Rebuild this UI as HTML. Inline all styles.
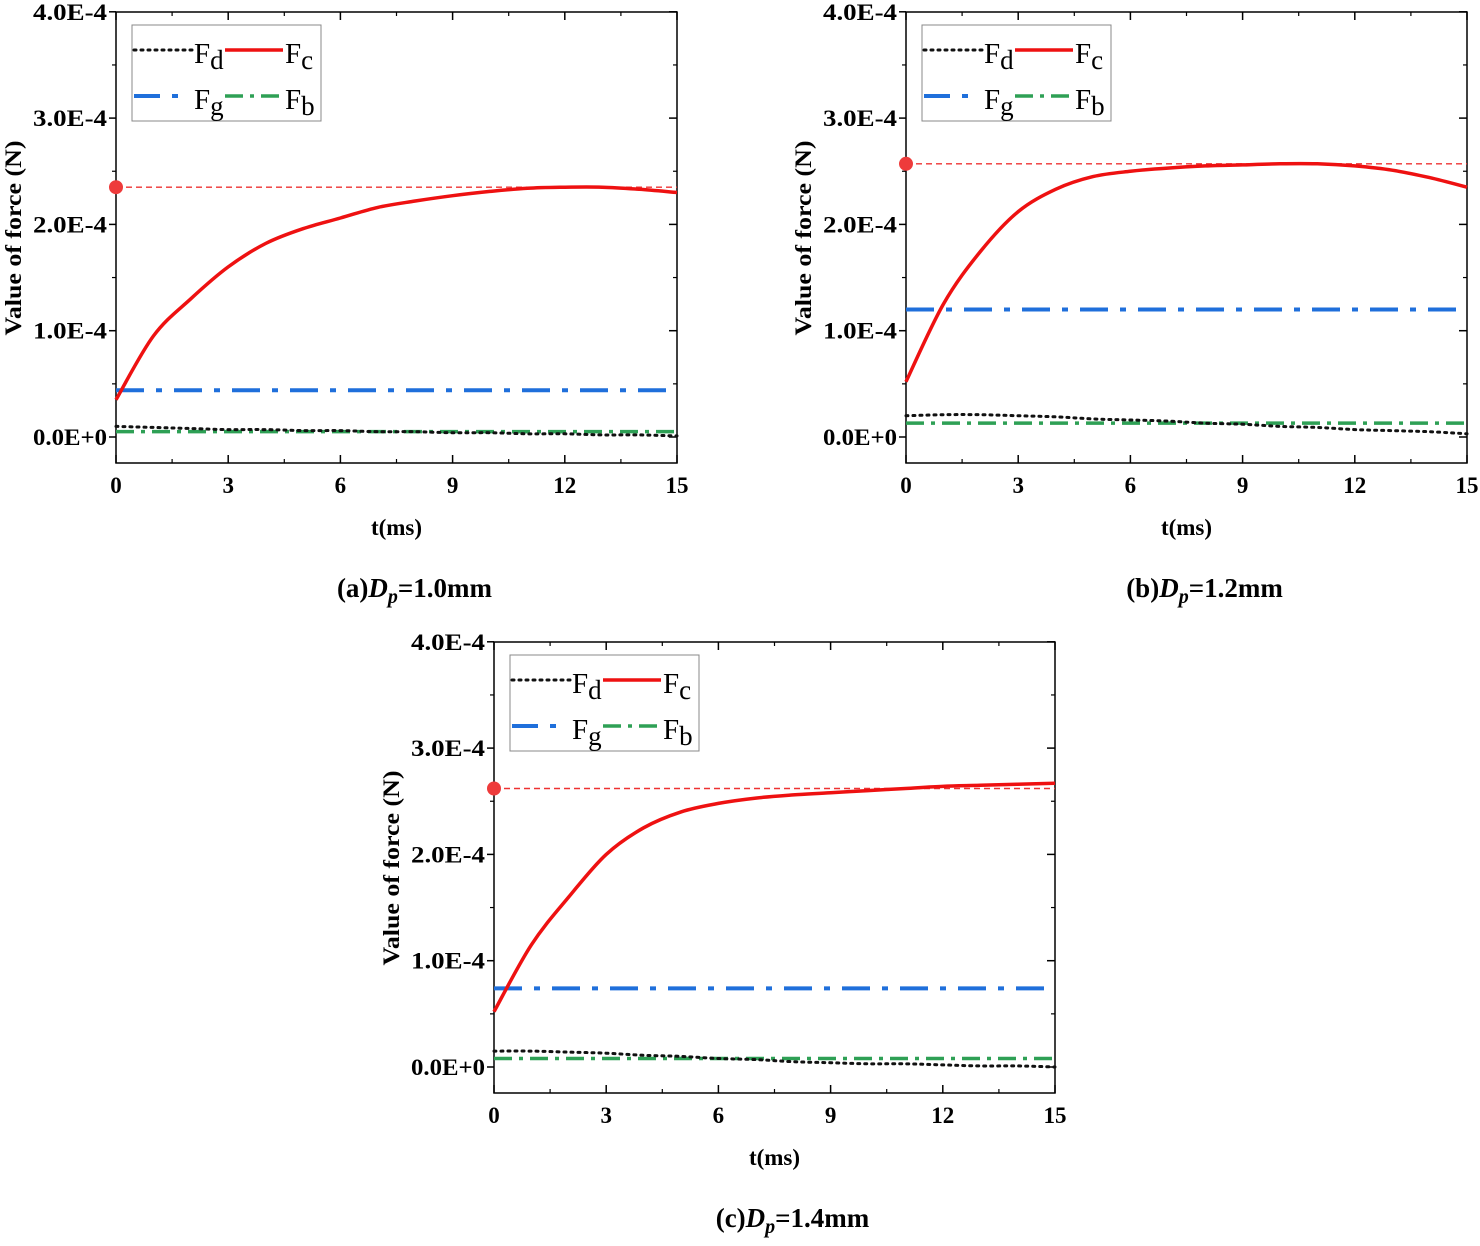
<!DOCTYPE html>
<html><head><meta charset="utf-8"><style>
body{margin:0;background:#fff;width:1480px;height:1241px;overflow:hidden}
svg text{font-family:"Liberation Serif",serif;font-weight:bold}
</style></head><body>
<svg id="root" width="1480" height="1241"></svg>
<script>
const tVals=[0,1,2,3,4,5,6,7,8,9,10,11,12,13,14,15];
const xTicks=[0,3,6,9,12,15];
const yTicks=[0,1,2,3,4];
const yTickLabels=["0.0E+0","1.0E-4","2.0E-4","3.0E-4","4.0E-4"];
const fcA=[0.35,0.95,1.3,1.6,1.82,1.96,2.06,2.16,2.22,2.27,2.31,2.34,2.35,2.35,2.33,2.30];
const fdA=[0.10,0.09,0.08,0.07,0.07,0.06,0.06,0.05,0.05,0.04,0.04,0.03,0.03,0.02,0.02,0.01];
const fgA=0.44, fbA=0.05, refA=2.35;
const fcB=[0.52,1.25,1.75,2.12,2.33,2.45,2.50,2.53,2.55,2.56,2.57,2.57,2.55,2.51,2.44,2.35];
const fdB=[0.20,0.21,0.21,0.20,0.19,0.17,0.16,0.15,0.13,0.12,0.10,0.09,0.07,0.06,0.05,0.03];
const fgB=1.2, fbB=0.13, refB=2.57;
const fcC=[0.52,1.15,1.6,2.0,2.25,2.4,2.48,2.53,2.56,2.58,2.60,2.62,2.64,2.65,2.66,2.67];
const fdC=[0.15,0.15,0.14,0.13,0.11,0.10,0.08,0.07,0.05,0.04,0.03,0.03,0.02,0.01,0.01,0.0];
const fgC=0.74, fbC=0.08, refC=2.62;
const captions=["(a)","(b)","(c)"], dpVals=["1.0","1.2","1.4"];

const NS="http://www.w3.org/2000/svg";
const root=document.getElementById('root');
function mk(tag,attrs,parent,text){const e=document.createElementNS(NS,tag);for(const k in attrs)e.setAttribute(k,attrs[k]);if(text!==undefined)e.textContent=text;parent.appendChild(e);return e;}

function smooth(pts){
  let d='M'+pts[0][0].toFixed(1)+','+pts[0][1].toFixed(1);
  for(let i=0;i<pts.length-1;i++){
    const p0=pts[Math.max(0,i-1)],p1=pts[i],p2=pts[i+1],p3=pts[Math.min(pts.length-1,i+2)];
    const c1=[p1[0]+(p2[0]-p0[0])/6,p1[1]+(p2[1]-p0[1])/6];
    const c2=[p2[0]-(p3[0]-p1[0])/6,p2[1]-(p3[1]-p1[1])/6];
    d+=` C${c1[0].toFixed(1)},${c1[1].toFixed(1)} ${c2[0].toFixed(1)},${c2[1].toFixed(1)} ${p2[0].toFixed(1)},${p2[1].toFixed(1)}`;
  }
  return d;
}

function panel(ox,oy,fc,fd,fg,fb,ref,idx){
  const L=ox,R=ox+561,T=oy,B=oy+451,y0=oy+425;
  const xs=t=>L+(t/15)*(R-L);
  const ys=v=>y0-v*106.3;
  const g=mk('g',{},root);
  
  
  const frame=mk('rect',{x:L,y:T,width:R-L,height:B-T,fill:'none',stroke:'#000','stroke-width':1.5},g);
  
  xTicks.forEach(t=>{
    mk('line',{x1:xs(t),x2:xs(t),y1:B,y2:B-8,stroke:'#000','stroke-width':1.5},g);
    mk('line',{x1:xs(t),x2:xs(t),y1:T,y2:T+8,stroke:'#000','stroke-width':1.5},g);
    const lb=mk('text',{x:xs(t),y:B+30,'text-anchor':'middle','font-size':23},g,String(t));
    
  });
  for(let t=1.5;t<15;t+=3){
    mk('line',{x1:xs(t),x2:xs(t),y1:B,y2:B-4,stroke:'#000','stroke-width':1.2},g);
    mk('line',{x1:xs(t),x2:xs(t),y1:T,y2:T+4,stroke:'#000','stroke-width':1.2},g);
  }
  yTicks.forEach((v,i)=>{
    mk('line',{x1:L,x2:L-7,y1:ys(v),y2:ys(v),stroke:'#000','stroke-width':1.5},g);
    mk('line',{x1:R,x2:R-8,y1:ys(v),y2:ys(v),stroke:'#000','stroke-width':1.5},g);
    const lb=mk('text',{x:L-9,y:ys(v)+8,'text-anchor':'end','font-size':23,textLength:74,lengthAdjust:'spacingAndGlyphs'},g,yTickLabels[i]);
    
  });
  for(let v=0.5;v<4;v+=1){
    mk('line',{x1:L,x2:L-4,y1:ys(v),y2:ys(v),stroke:'#000','stroke-width':1.2},g);
    mk('line',{x1:R,x2:R-4,y1:ys(v),y2:ys(v),stroke:'#000','stroke-width':1.2},g);
  }
  const yt=mk('text',{x:0,y:0,'text-anchor':'middle','font-size':23,textLength:195,lengthAdjust:'spacingAndGlyphs',transform:`translate(${L-95},${oy+226}) rotate(-90)`},g,'Value of force (N)');
  
  const xt=mk('text',{x:(L+R)/2,y:B+72,'text-anchor':'middle','font-size':23},g,'t(ms)');
  
  const cap=mk('text',{x:(L+R)/2+18,y:B+134,'text-anchor':'middle','font-size':27},g);
  
  mk('tspan',{},cap,captions[idx]);mk('tspan',{'font-style':'italic'},cap,'D');
  mk('tspan',{'font-style':'italic','font-size':20,dy:6},cap,'p');
  mk('tspan',{dy:-6},cap,'='+dpVals[idx]+'mm');
  const pts=arr=>arr.map((v,i)=>[xs(tVals[i]),ys(v)]);
  const fbL=mk('line',{x1:L,x2:R,y1:ys(fb),y2:ys(fb),stroke:'#2ea055','stroke-width':3.5,'stroke-dasharray':'18 7 4 7'},g);
  
  const fdL=mk('path',{d:smooth(pts(fd)),fill:'none',stroke:'#111','stroke-width':3,'stroke-dasharray':'2 5','stroke-linecap':'round'},g);
  
  const fgL=mk('line',{x1:L,x2:R,y1:ys(fg),y2:ys(fg),stroke:'#1f6fdb','stroke-width':4,'stroke-dasharray':'28 12 6 12'},g);
  
  const refL=mk('line',{x1:L,x2:R,y1:ys(ref),y2:ys(ref),stroke:'#ee3333','stroke-width':1.4,'stroke-dasharray':'6 4'},g);
  
  const fcL=mk('path',{d:smooth(pts(fc)),fill:'none',stroke:'#ee1111','stroke-width':3.5},g);
  
  const dot=mk('circle',{cx:L,cy:ys(ref),r:7,fill:'#ee3b3b'},g);
  
  const lg=mk('g',{},g);
  
  const lx=L+16,ly=T+13;
  mk('rect',{x:lx,y:ly,width:189,height:96,fill:'#fff',stroke:'#888','stroke-width':1},lg);
  const items=[
    {n:'d',x:lx+2,y:ly+38,st:{stroke:'#111','stroke-width':3,'stroke-dasharray':'2 5','stroke-linecap':'round'}},
    {n:'c',x:lx+93,y:ly+38,st:{stroke:'#ee1111','stroke-width':3.5}},
    {n:'g',x:lx+2,y:ly+84,st:{stroke:'#1f6fdb','stroke-width':4,'stroke-dasharray':'26 12 6 50'}},
    {n:'b',x:lx+93,y:ly+84,st:{stroke:'#2ea055','stroke-width':3.5,'stroke-dasharray':'18 7 4 7'}}];
  items.forEach(it=>{
    const e=mk('g',{},lg);
    
    const a=Object.assign({x1:it.x,x2:it.x+58,y1:it.y-13,y2:it.y-13},it.st);
    mk('line',a,e);
    const tx=mk('text',{x:it.x+60,y:it.y,'font-size':29},e);
    tx.setAttribute('style','font-weight:normal');
    mk('tspan',{},tx,'F');mk('tspan',{dy:6,'font-size':27},tx,it.n);
  });
}
panel(116,12,fcA,fdA,fgA,fbA,refA,0);
panel(906,12,fcB,fdB,fgB,fbB,refB,1);
panel(494,642,fcC,fdC,fgC,fbC,refC,2);
</script>
</body></html>
